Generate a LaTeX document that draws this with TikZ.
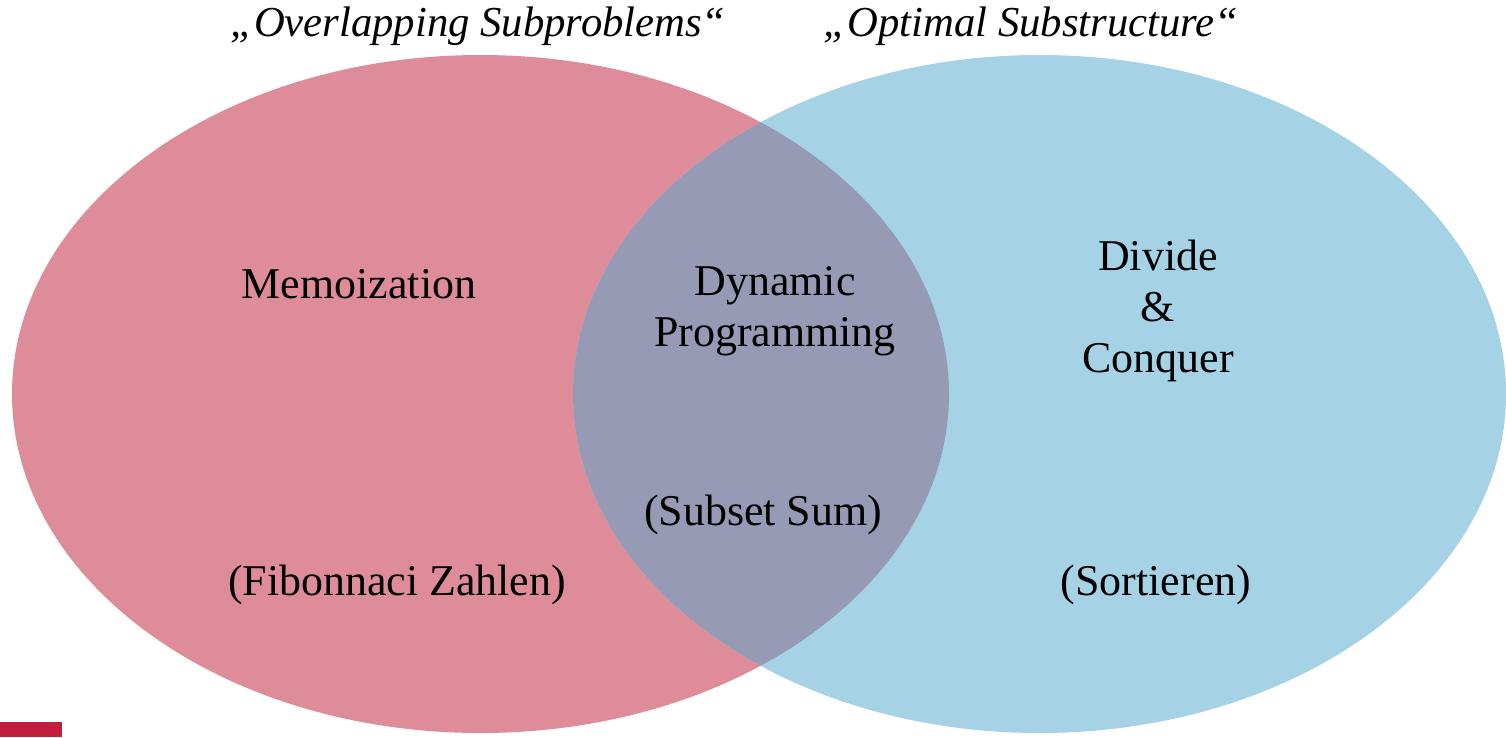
\documentclass[tikz,border=0pt]{standalone}
\usepackage{fontspec}
\setmainfont{Liberation Serif}
\usepackage{tikz}
\usepackage{xcolor}
\usetikzlibrary{positioning}

\definecolor{memored}{HTML}{DE8C99}
\definecolor{dcblue}{HTML}{A5D2E4}
\definecolor{dpgrey}{HTML}{969AB4}
\definecolor{barred}{HTML}{C21E3D}

\tikzset{
    lbl/.style={font=\fontsize{25}{29}\selectfont, align=center, inner sep=0pt},
    ttl/.style={font=\fontsize{24.3}{30}\selectfont\itshape, inner sep=0pt}
}

\begin{document}
\begin{tikzpicture}
                        \useasboundingbox (0, 0) rectangle (30.12, -14.74);
                        \fill[memored] (9.61, -7.88) ellipse [x radius=9.37cm, y radius=6.78cm];
                        \fill[dcblue] (20.79, -7.88) ellipse [x radius=9.33cm, y radius=6.78cm];
                        \begin{scope}
                        \clip (9.61, -7.88) ellipse [x radius=9.37cm, y radius=6.78cm];
                        \fill[dpgrey] (20.79, -7.88) ellipse [x radius=9.33cm, y radius=6.78cm];
                        \end{scope}
                        \fill[barred] (0, -14.44) rectangle (1.24, -14.74);
                        \node[ttl] (ovl) at (9.56, -0.52) {„Overlapping Subproblems“};
                        \node[ttl] (opt) at (20.62, -0.52) {„Optimal Substructure“};
                        \node[lbl] (memo) at (7.18, -5.68) {Memoization};
                        \node[lbl] (dp) at (15.50, -6.22) {Dynamic\\Programming};
                        \node[lbl] (dc) at (23.16, -6.22) {Divide\\\&\\Conquer};
                        \node[lbl] (fib) at (7.94, -11.70) {(Fibonnaci Zahlen)};
                        \node[lbl] (subset) at (15.26, -10.30) {(Subset Sum)};
                        \node[lbl] (sort) at (23.12, -11.70) {(Sortieren)};
                    \end{tikzpicture}
\end{document}
